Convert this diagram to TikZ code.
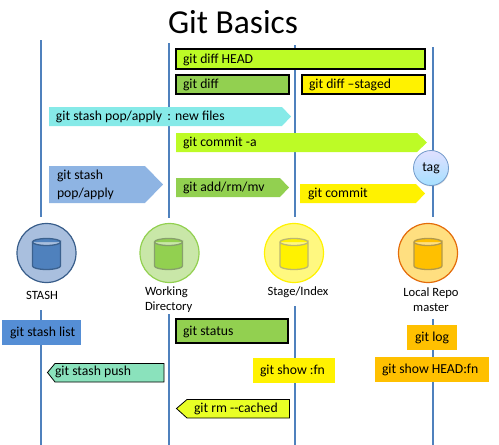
\documentclass[tikz,border=0pt]{standalone}
\usepackage{fontspec}
\setmainfont{Carlito}
\usetikzlibrary{shadows}
\definecolor{lineblue}{HTML}{4F81BD}
\definecolor{lime}{HTML}{BDFB26}
\definecolor{leaf}{HTML}{92D050}
\definecolor{cyanb}{HTML}{86EAE8}
\definecolor{popblue}{HTML}{8EB4E3}
\definecolor{listblue}{HTML}{558ED5}
\definecolor{mint}{HTML}{8AE2BC}
\definecolor{rmyellow}{HTML}{E9FF25}
\definecolor{amber}{HTML}{FFC000}
\definecolor{stashfill}{HTML}{A9BFDE}
\definecolor{stashedge}{HTML}{385D8A}
\definecolor{repoedge}{HTML}{E46C0A}
\tikzset{
  x=1pt,y=-1pt,
  every node/.style={font=\fontsize{13.7}{16}\selectfont,inner sep=0pt,outer sep=0pt,text=black},
  life/.style={draw=lineblue,line width=1.7pt},
  frame/.style={draw=black,line width=1.5pt},
  lbl/.style={anchor=west,text height=9pt,text depth=3pt,yshift=-1pt},
  captext/.style={font=\fontsize{12.6}{15}\selectfont,align=center,anchor=center},
  disc/.style={circle,minimum size=59pt,line width=1.2pt},
  can/.style={line width=1.3pt,fill=#1},
}
\newcommand{\barrel}[3]{% cx, fill, stroke
  \draw[can=#2,draw=#3] (#1-14,242) -- (#1-14,266) arc[x radius=14,y radius=3.5,start angle=180,end angle=0] -- (#1+14,242) arc[x radius=14,y radius=3.5,start angle=0,end angle=360];
}
\begin{document}
\begin{tikzpicture}
\useasboundingbox (0,0) rectangle (499,445);
\node[font=\fontsize{33.5}{36}\selectfont] (title) at (233,22) {Git Basics};

\draw[life] (41,40) -- (41,217);
\draw[life] (169,43) -- (169,218);
\draw[life] (295,45) -- (295,217);
\draw[life] (433,47) -- (433,217);
\draw[life] (41,310) -- (41,445);
\draw[life] (169,314) -- (169,445);
\draw[life] (295,306) -- (295,445);
\draw[life] (433,319) -- (433,445);

\draw[frame,fill=lime] (176,49) rectangle (425,69);
\node[lbl] (diffhead) at (183,59) {git diff HEAD};
\draw[frame,fill=leaf] (176,75) rectangle (289,94);
\node[lbl] (diff) at (183,84.5) {git diff};
\draw[frame,fill=yellow] (302,75) rectangle (425,94);
\node[lbl] (staged) at (309,84.5) {git diff –staged};

\fill[cyanb] (49,107) -- (282,107) -- (291,116.5) -- (282,126) -- (49,126) -- cycle;
\node[lbl] (popnew) at (56,116.5) {git stash pop/apply\, : new files};
\fill[lime] (176,133) -- (417,133) -- (427,142.5) -- (417,152) -- (176,152) -- cycle;
\node[lbl] (commita) at (183,142.5) {git commit -a};
\fill[popblue] (49,166) -- (145,166) -- (163,184.5) -- (145,203) -- (49,203) -- cycle;
\node[anchor=west,align=left,font=\fontsize{13.7}{17.5}\selectfont] (pop) at (57,185) {git stash\\pop/apply};
\fill[leaf] (176,178) -- (280,178) -- (289,187.5) -- (280,197) -- (176,197) -- cycle;
\node[lbl] (add) at (183,187.5) {git add/rm/mv};
\fill[yellow] (300,184) -- (416,184) -- (425,193.5) -- (416,203) -- (300,203) -- cycle;
\node[lbl] (commit) at (308,193.5) {git commit};
\node[circle,minimum size=35pt,draw=lineblue!80!white,line width=.8pt,top color=blue!12!white,bottom color=blue!35!cyan!35!white,drop shadow={opacity=.25,shadow xshift=.5pt,shadow yshift=-1pt}] (tag) at (431,168) {tag};

\node[disc,fill=stashfill,draw=stashedge] (cstash) at (46.5,253) {};
\node[disc,fill=leaf!50!white,draw=leaf] (cwork) at (169.5,253) {};
\node[disc,fill=yellow!50!white,draw=yellow] (cstage) at (294,253) {};
\node[disc,fill=amber!50!white,draw=repoedge] (crepo) at (428,253) {};
\barrel{46.5}{lineblue}{lineblue!75!black}
\barrel{168.5}{leaf}{gray!60!leaf}
\barrel{294}{yellow}{gray!60!yellow}
\barrel{428}{amber}{gray!60!amber}

\node[captext] (lstash) at (42,295) {STASH};
\node[captext,align=left,anchor=west] (lwork) at (145,299.5) {Working\\Directory};
\node[captext] (lstage) at (298,292) {Stage/Index};
\node[captext] (lrepo) at (431,299.5) {Local Repo\\master};

\fill[listblue] (2,320) rectangle (81,345);
\node[lbl] (list) at (10,332.5) {git stash list};
\draw[frame,fill=leaf] (176,319) rectangle (288,343);
\node[lbl] (status) at (183,331) {git status};
\draw[fill=mint,draw=black,line width=.8pt] (164,363.5) -- (55,363.5) -- (47.5,372.5) -- (55,382) -- (164,382) -- cycle;
\node[lbl] (push) at (55,371) {git stash push};
\draw[fill=rmyellow,draw=black,line width=.8pt] (289.5,399.5) -- (187,399.5) -- (176.5,408.5) -- (187,418) -- (289.5,418) -- cycle;
\node[lbl] (rm) at (194,408) {git rm -{}-cached};
\fill[yellow] (253,358) rectangle (335,383);
\node[lbl] (showfn) at (260,370.5) {git show :fn};
\fill[amber] (407,325) rectangle (457,350);
\node[lbl] (log) at (415,337.5) {git log};
\fill[amber] (375,357) rectangle (489,382);
\node[lbl] (showhead) at (382,369.5) {git show HEAD:fn};
\end{tikzpicture}
\end{document}
